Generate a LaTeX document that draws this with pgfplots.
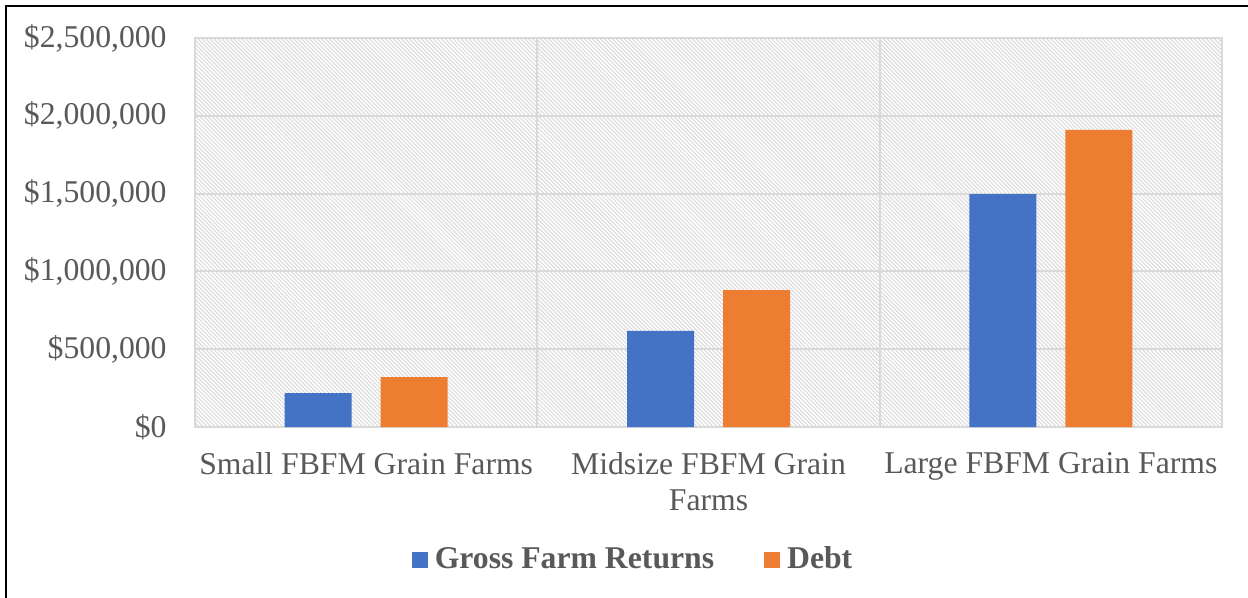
\documentclass[border=0pt]{standalone}
\usepackage{fontspec}
\setmainfont{Liberation Serif}
\usepackage{pgfplots}
\pgfplotsset{compat=1.18}
\usetikzlibrary{patterns}
\definecolor{cblue}{HTML}{4472C4}
\definecolor{corange}{HTML}{ED7D31}
\definecolor{cgrid}{HTML}{D9D9D9}
\definecolor{ctext}{HTML}{595959}
% fine "\" hatch for the plot area
\pgfdeclarepatternformonly{finehatch}{\pgfqpoint{-1pt}{-1pt}}{\pgfqpoint{3pt}{3pt}}{\pgfqpoint{2pt}{2pt}}{%
  \pgfsetlinewidth{0.5pt}%
  \pgfpathmoveto{\pgfqpoint{0pt}{2pt}}%
  \pgfpathlineto{\pgfqpoint{2.1pt}{-0.1pt}}%
  \pgfusepath{stroke}}
\newcommand{\chartfont}{\fontsize{15.85bp}{18bp}\selectfont}
\begin{document}
\chartfont
\begin{tikzpicture}
\useasboundingbox (-97.5bp,-85.5bp) rectangle (526.5bp,213.5bp);
\begin{axis}[
  at={(0,0)}, anchor=south west, scale only axis,
  width=513.5bp, height=194.5bp,
  ybar=14.5bp, bar width=33.5bp,
  xmin=-0.5, xmax=2.5, ymin=0, ymax=2500000,
  xtick={0,1,2},
  xticklabels={Small FBFM Grain Farms, Midsize FBFM Grain\\Farms, Large FBFM Grain Farms},
  minor xtick={0.5,1.5},
  ytick={0,500000,1000000,1500000,2000000,2500000},
  yticklabels={{\$0},{\$500,000},{\$1,000,000},{\$1,500,000},{\$2,000,000},{\$2,500,000}},
  scaled y ticks=false,
  major tick length=0pt, minor tick length=0pt,
  ymajorgrids, xminorgrids,
  grid style={cgrid, line width=1bp},
  minor grid style={cgrid, line width=1bp},
  axis line style={cgrid, line width=1bp},
  axis background/.style={pattern=finehatch, pattern color=black!15},
  xticklabel style={align=center, anchor=north, inner sep=0pt, yshift=-12.5bp, text=ctext, font=\chartfont},
  yticklabel style={anchor=east, inner sep=0pt, xshift=-14bp, text=ctext, font=\chartfont},
  legend style={at={(0.4275,-0.342)}, anchor=center, draw=none, fill=none,
    legend columns=2, font=\chartfont\bfseries, text=ctext,
    /tikz/every even column/.append style={column sep=23bp}},
  legend image code/.code={\fill[#1, draw=none] (0bp,-4bp) rectangle (8bp,4bp);},
  legend cell align=left,
]
\addplot[fill=cblue, draw=none] coordinates {(0,218000) (1,617000) (2,1497000)};
\addlegendentry{\hspace{1.5bp}Gross Farm Returns}
\addplot[fill=corange, draw=none] coordinates {(0,321000) (1,880000) (2,1909000)};
\addlegendentry{\hspace{1.5bp}Debt}
\end{axis}
\draw[line width=1bp, black] (-94.25bp,-90bp) -- (-94.25bp,210.25bp) -- (530bp,210.25bp);
\end{tikzpicture}
\end{document}
